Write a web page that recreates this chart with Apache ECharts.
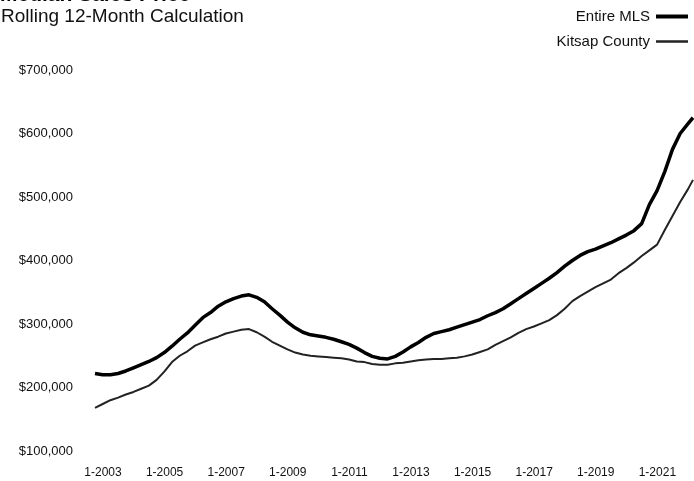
<!DOCTYPE html>
<html>
<head>
<meta charset="utf-8">
<script src="https://cdn.jsdelivr.net/npm/echarts@6/dist/echarts.min.js"></script>
<style>
  html, body { margin: 0; padding: 0; background: #fff; }
  #chart { width: 694px; height: 481px; }
</style>
</head>
<body>
<div id="chart"></div>
<script>
// months since Jan 2003, one reading per quarter
const months = [
  0, 3, 6, 9, 12, 15, 18, 21, 24, 27, 30, 33, 36, 39, 42, 45, 48, 51, 54, 57,
  60, 63, 66, 69, 72, 75, 78, 81, 84, 87, 90, 93, 96, 99, 102, 105, 108, 111, 114, 117,
  120, 123, 126, 129, 132, 135, 138, 141, 144, 147, 150, 153, 156, 159, 162, 165, 168, 171, 174, 177,
  180, 183, 186, 189, 192, 195, 198, 201, 204, 207, 210, 213, 216, 219, 222, 225, 228, 231, 233
]
// median price, thousands of dollars
const entireMls = [
  222, 220, 220, 222, 226, 231, 236, 241, 247, 255, 265, 276, 286, 298, 310, 318, 328, 335, 340, 344,
  346, 342, 335, 324, 314, 303, 294, 287, 283, 281, 279, 276, 272, 268, 262, 255, 249, 246, 245, 249,
  256, 264, 271, 279, 285, 288, 291, 295, 299, 303, 307, 313, 318, 324, 332, 340, 348, 356, 364, 372,
  381, 391, 400, 408, 414, 418, 423, 428, 434, 440, 447, 458, 488, 510, 540, 575, 600, 615, 625
]
const kitsapCounty = [
  168, 174, 180, 184, 189, 193, 198, 203, 212, 225, 240, 250, 257, 266, 271, 276, 280, 285, 288, 291,
  292, 287, 280, 272, 266, 260, 255, 252, 250, 249, 248, 247, 246, 244, 241, 240, 237, 236, 236, 238,
  239, 241, 243, 244, 245, 245, 246, 247, 249, 252, 256, 260, 267, 273, 279, 286, 292, 296, 301, 306,
  314, 324, 336, 344, 351, 358, 364, 370, 380, 388, 397, 407, 416, 425, 448, 470, 492, 512, 527
]
const yTicks = [100000, 200000, 300000, 400000, 500000, 600000, 700000]
const startYear = 2003

function pairs(vals) {
  return months.map((m, i) => [m, vals[i] * 1000])
}

const chart = echarts.init(document.getElementById('chart'))

const option = {
  animation: false,
  backgroundColor: '#fff',
  graphic: [
    {
      type: 'text',
      left: 0,
      top: -15,
      style: { text: 'Median Sales Price', font: 'bold 21px "Liberation Sans", Arial', fill: '#000' }
    },
    {
      type: 'text',
      left: 1,
      top: 7,
      style: { text: 'Rolling 12-Month Calculation', font: '19px "Liberation Sans", Arial', fill: '#111' }
    }
  ],
  legend: {
    orient: 'vertical',
    right: 1,
    top: 4,
    align: 'right',
    itemWidth: 32,
    itemHeight: 10,
    itemGap: 10,
    textStyle: { fontSize: 15, color: '#111', fontFamily: 'Liberation Sans', padding: [0, 1, 0, 0] },
    data: [
      { name: 'Entire MLS', icon: 'path://M0,0H32V4H0Z' },
      { name: 'Kitsap County', icon: 'path://M0,0H32V2.5H0Z' }
    ]
  },
  grid: { left: 95, right: 1, top: 70, bottom: 30 },
  xAxis: {
    type: 'value',
    min: 0,
    max: 233,
    interval: 24,
    axisLine: { show: false },
    axisTick: { show: false },
    splitLine: { show: false },
    axisLabel: {
      color: '#111',
      fontSize: 12,
      fontFamily: 'Liberation Sans',
      margin: 16,
      padding: [0, 0, 0, 16],
      showMaxLabel: false,
      formatter: v => (v % 12 === 0 ? '1-' + (startYear + v / 12) : '')
    }
  },
  yAxis: {
    type: 'value',
    min: yTicks[0],
    max: yTicks[yTicks.length - 1],
    interval: 100000,
    axisLine: { show: false },
    axisTick: { show: false },
    splitLine: { show: false },
    axisLabel: {
      color: '#111',
      fontSize: 13,
      fontFamily: 'Liberation Sans',
      margin: 22,
      formatter: v => '$' + v.toLocaleString('en-US')
    }
  },
  series: [
    {
      name: 'Entire MLS',
      type: 'line',
      symbol: 'none',
      data: pairs(entireMls),
      lineStyle: { color: '#000', width: 3.5 },
      itemStyle: { color: '#000' }
    },
    {
      name: 'Kitsap County',
      type: 'line',
      symbol: 'none',
      data: pairs(kitsapCounty),
      lineStyle: { color: '#222', width: 2 },
      itemStyle: { color: '#222' }
    }
  ]
}

option && chart.setOption(option)
</script>
</body>
</html>
